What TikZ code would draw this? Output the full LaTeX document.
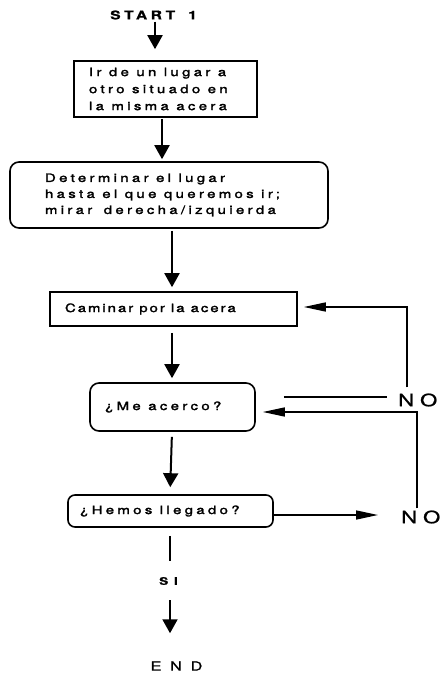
\documentclass[tikz,border=0pt]{standalone}
\usepackage{fontspec}
\setmainfont{TeX Gyre Heros}[FakeStretch=1.3,LetterSpace=29,FakeBold=2]
\newfontfamily\startfont{TeX Gyre Heros}[FakeStretch=1.3,LetterSpace=30,FakeBold=1.2]
\newfontfamily\sifont{TeX Gyre Heros}[FakeStretch=1.3,LetterSpace=55,FakeBold=0.8]
\newfontfamily\nofont{TeX Gyre Heros}[FakeStretch=1.3,LetterSpace=35,FakeBold=1]
\newfontfamily\endfont{TeX Gyre Heros}[FakeStretch=1.3,LetterSpace=70,FakeBold=1]
\newfontfamily\narrowfont{TeX Gyre Heros}[FakeStretch=1.3,LetterSpace=17,FakeBold=2]
\usetikzlibrary{arrows.meta}
\newcommand{\fixsp}{\spaceskip=0pt\xspaceskip=0pt\relax}
\begin{document}
\begin{tikzpicture}[x=1pt,y=-1pt,
  box/.style={draw, line width=1.6pt, inner ysep=0pt, align=left,
    font=\fontsize{11.5}{16}\selectfont},
  rbox/.style={box, rounded corners=9pt},
  lbl/.style={inner sep=0pt},
  flow/.style={line width=2pt, -{Triangle[width=15pt,length=14pt]}},
  plain/.style={line width=2pt},
  side/.style={line width=1.5pt},
  sidearrow/.style={side, -{Triangle[width=9pt,length=22pt]}}]
\useasboundingbox (0,0) rectangle (440,676);
% columns used by the vertical connectors
\coordinate (c0) at (155,0);
\coordinate (c1) at (162,0);
\coordinate (c2) at (172,0);
\coordinate (c4) at (170,0);
\coordinate (k1) at (407,0);
\coordinate (k2) at (417,0);
% nodes
\node[lbl, anchor=west, font=\startfont\fontsize{12}{12}\selectfont\bfseries] (start) at (110,15)
  {START\hspace{13pt}1};
\node[box, font=\fontsize{11.5}{17}\selectfont, minimum width=183pt, minimum height=56pt, inner xsep=15pt, text width=153pt] (b1) at (165.5,89)
  {\fixsp\mbox{Ir de un lugar a}\\\mbox{otro situado en}\\\mbox{la misma acera}};
\node[rbox, minimum width=318pt, minimum height=66pt, inner xsep=35pt, text width=248pt] (b2) at (169,195)
  {\fixsp\mbox{Determinar el lugar}\\\mbox{hasta el que queremos ir;}\\\mbox{mirar\hspace{4pt} derecha/izquierda}};
\node[box, font=\narrowfont\fontsize{11.5}{16}\selectfont, minimum width=247pt, minimum height=34pt, inner xsep=15pt, text width=217pt] (b3) at (173.5,309)
  {\fixsp\mbox{Caminar por la acera}};
\node[rbox, minimum width=165pt, minimum height=48pt, inner xsep=15pt, text width=135pt] (b4) at (172.5,407)
  {\fixsp\mbox{¿Me acerco?}};
\node[rbox, rounded corners=7pt, minimum width=205pt, minimum height=32pt, inner xsep=12pt, text width=181pt] (b5) at (170.5,511)
  {\fixsp\mbox{¿Hemos llegado?}};
\node[lbl, font=\sifont\fontsize{10.5}{11}\selectfont\bfseries] (si) at (168.5,581) {SI};
\node[lbl, font=\endfont\fontsize{12.5}{13}\selectfont] (end) at (176.5,666) {END};
\node[lbl, anchor=west, font=\nofont\fontsize{17}{17}\selectfont] (no1) at (398,400) {NO};
\node[lbl, anchor=west, font=\nofont\fontsize{17}{17}\selectfont] (no2) at (401,517) {NO};
% main flow
\draw[flow, shorten <=2pt, shorten >=11pt] (start.south -| c0) -- (b1.north -| c0);
\draw[flow, shorten <=1pt, shorten >=2pt] (b1.south -| c1) -- (b2.north -| c1);
\draw[flow, shorten <=2pt, shorten >=4pt] (b2.south -| c2) -- (b3.north -| c2);
\draw[flow, shorten <=6pt, shorten >=4pt] (b3.south -| c2) -- (b4.north -| c2);
\draw[flow, shorten <=5pt, shorten >=7pt] (b4.south -| c2) -- (b5.north -| c4);
\draw[plain, shorten <=8pt, shorten >=16pt] (b5.south -| c4) -- (si.north -| c4);
\draw[flow, shorten <=15pt, shorten >=28pt] (si.south -| c4) -- (end.north -| c4);
% NO branches
\draw[side] ([shift={(28pt,10pt)}]b4.east) -- ([shift={(-11pt,3pt)}]no1.west);
\draw[sidearrow, shorten <=6pt, shorten >=6pt] (no1.north -| k1) |- ([yshift=2pt]b3.east);
\draw[sidearrow, shorten <=2pt, shorten >=7pt] (no2.north -| k2) |- ([yshift=-5pt]b4.east);
\draw[sidearrow, shorten >=23pt] ([yshift=-4pt]b5.east) -- ([yshift=-4pt]b5.east -| no2.west);
\end{tikzpicture}
\end{document}
